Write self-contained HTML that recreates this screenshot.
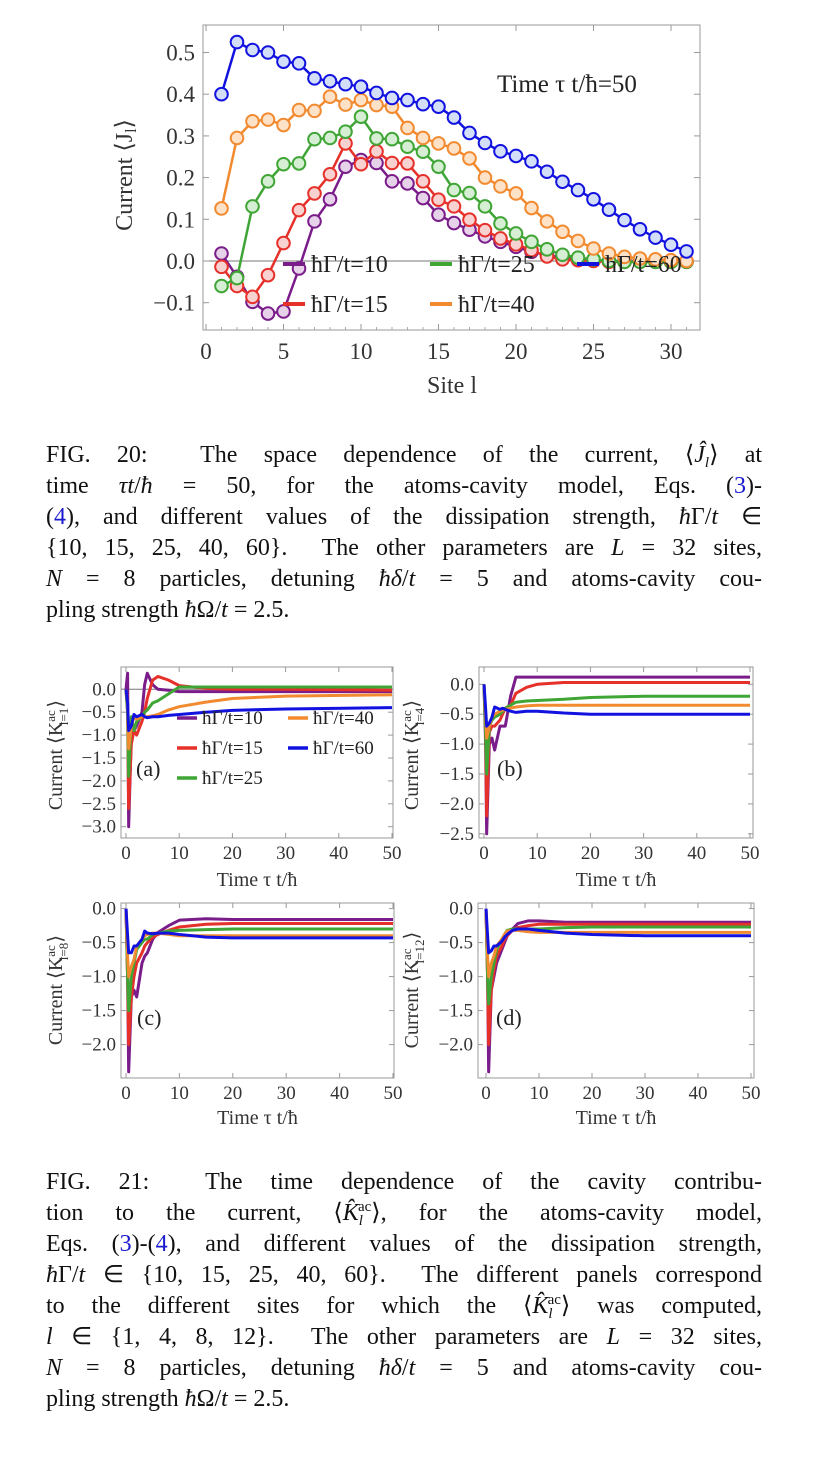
<!DOCTYPE html>
<html><head><meta charset="utf-8">
<style>
body{margin:0;background:#fff;width:814px;height:1474px;overflow:hidden;position:relative;font-family:"Liberation Serif",serif;}
svg text{font-family:"Liberation Serif",serif;}
.cap{position:absolute;left:46px;width:716px;font-size:24px;color:#111;}
.cap div{height:31px;line-height:31px;text-align:justify;text-align-last:justify;white-space:nowrap;overflow:visible;}
.cap div.last{text-align-last:left;}
.cap i{font-style:italic}
.cap sub,.cap sup{font-size:15px;line-height:0;position:relative;vertical-align:baseline;}
.cap sub{top:5px}.cap sup{top:-9px}
.blue{color:#1a1ad0}
</style></head><body>
<svg id="top" width="814" height="400" style="position:absolute;left:0;top:0"></svg>
<svg id="bot" width="814" height="500" style="position:absolute;left:0;top:650px"></svg>

<div class="cap" style="top:440px">
<div>FIG. 20: &nbsp;The space dependence of the current, ⟨<i>Ĵ<sub>l</sub></i>⟩ at</div>
<div>time <i>τt</i>/<i>ħ</i> = 50, for the atoms-cavity model, Eqs. (<span class="blue">3</span>)-</div>
<div>(<span class="blue">4</span>), and different values of the dissipation strength, <i>ħ</i>Γ/<i>t</i> ∈</div>
<div>{10, 15, 25, 40, 60}. &nbsp;The other parameters are <i>L</i> = 32 sites,</div>
<div><i>N</i> = 8 particles, detuning <i>ħδ</i>/<i>t</i> = 5 and atoms-cavity cou-</div>
<div class="last">pling strength <i>ħ</i>Ω/<i>t</i> = 2.5.</div>
</div>
<div class="cap" style="top:1167px">
<div>FIG. 21: &nbsp;The time dependence of the cavity contribu-</div>
<div>tion to the current, ⟨<i>K̂</i><sub><i>l</i></sub><sup style="margin-left:-5px">ac</sup>⟩, for the atoms-cavity model,</div>
<div>Eqs. (<span class="blue">3</span>)-(<span class="blue">4</span>), and different values of the dissipation strength,</div>
<div><i>ħ</i>Γ/<i>t</i> ∈ {10, 15, 25, 40, 60}. &nbsp;The different panels correspond</div>
<div>to the different sites for which the ⟨<i>K̂</i><sub><i>l</i></sub><sup style="margin-left:-5px">ac</sup>⟩ was computed,</div>
<div><i>l</i> ∈ {1, 4, 8, 12}. &nbsp;The other parameters are <i>L</i> = 32 sites,</div>
<div><i>N</i> = 8 particles, detuning <i>ħδ</i>/<i>t</i> = 5 and atoms-cavity cou-</div>
<div class="last">pling strength <i>ħ</i>Ω/<i>t</i> = 2.5.</div>
</div>

<script>
// ---- Top chart data ----
const sites = [1,2,3,4,5,6,7,8,9,10,11,12,13,14,15,16,17,18,19,20,21,22,23,24,25,26,27,28,29,30,31];
const seriesNames = ["g10","g15","g25","g40","g60"];
const legendLabels = ["ħΓ/t=10","ħΓ/t=15","ħΓ/t=25","ħΓ/t=40","ħΓ/t=60"];
const J10 = [0.018,-0.038,-0.098,-0.126,-0.121,-0.018,0.095,0.148,0.226,0.242,0.235,0.191,0.186,0.151,0.111,0.091,0.075,0.059,0.046,0.034,0.022,0.014,0.008,0.004,0.002,0,0,0,0,0,0];
const J15 = [-0.014,-0.06,-0.086,-0.034,0.043,0.122,0.162,0.208,0.282,0.232,0.263,0.235,0.234,0.191,0.147,0.131,0.099,0.074,0.054,0.04,0.026,0.011,0.004,0.002,0,-0.002,-0.002,-0.002,-0.002,-0.002,-0.002];
const J25 = [-0.06,-0.041,0.131,0.191,0.232,0.234,0.292,0.295,0.31,0.346,0.294,0.292,0.274,0.262,0.226,0.17,0.163,0.131,0.09,0.066,0.046,0.028,0.015,0.008,0.004,0,-0.002,-0.002,-0.002,-0.002,-0.002];
const J40 = [0.126,0.295,0.335,0.339,0.326,0.362,0.36,0.394,0.375,0.386,0.374,0.37,0.319,0.295,0.282,0.27,0.246,0.2,0.179,0.162,0.127,0.095,0.07,0.048,0.03,0.018,0.01,0.006,0.004,0.002,0];
const J60 = [0.40,0.525,0.506,0.50,0.478,0.474,0.438,0.431,0.424,0.418,0.403,0.391,0.386,0.376,0.37,0.344,0.307,0.283,0.263,0.252,0.239,0.214,0.19,0.17,0.148,0.123,0.098,0.076,0.056,0.039,0.023];
const xTicksTop = [0,5,10,15,20,25,30];
const yTicksTop = [-0.1,0.0,0.1,0.2,0.3,0.4,0.5];

// ---- Bottom panels data ----
const times = [0,0.3,0.5,1,1.5,2,3,3.5,4,5,6,8,10,15,20,30,50];
const A10=[0,0.35,-3.0,-1.0,-0.9,-0.8,-0.5,0.1,0.35,0.1,0.0,-0.02,-0.05,-0.05,-0.05,-0.05,-0.05];
const A15=[0,-0.5,-2.6,-1.2,-0.9,-1.0,-0.7,-0.5,-0.2,0.2,0.28,0.2,0.08,0.02,0.0,0.0,-0.02];
const A25=[0,-0.5,-1.9,-0.6,-0.9,-0.7,-0.6,-0.5,-0.45,-0.3,-0.25,-0.1,0.05,0.05,0.05,0.05,0.05];
const A40=[0,-0.3,-1.3,-0.8,-0.6,-0.65,-0.6,-0.6,-0.6,-0.58,-0.55,-0.45,-0.38,-0.28,-0.2,-0.15,-0.12];
const A60=[0,-0.3,-0.9,-0.8,-0.55,-0.6,-0.55,-0.6,-0.62,-0.6,-0.6,-0.57,-0.55,-0.5,-0.46,-0.43,-0.4];
const B10=[0,-1.0,-2.5,-1.0,-0.9,-1.1,-0.7,-0.7,-0.7,-0.2,0.12,0.12,0.12,0.12,0.12,0.12,0.12];
const B15=[0,-0.8,-2.2,-0.8,-0.7,-0.7,-0.6,-0.5,-0.4,-0.35,-0.15,-0.05,0.0,0.03,0.03,0.03,0.03];
const B25=[0,-0.8,-1.5,-0.7,-0.6,-0.55,-0.5,-0.45,-0.4,-0.35,-0.3,-0.28,-0.27,-0.25,-0.22,-0.2,-0.2];
const B40=[0,-0.5,-0.9,-0.7,-0.55,-0.5,-0.45,-0.43,-0.42,-0.4,-0.38,-0.36,-0.35,-0.35,-0.35,-0.35,-0.35];
const B60=[0,-0.4,-0.7,-0.65,-0.55,-0.38,-0.42,-0.4,-0.42,-0.45,-0.47,-0.45,-0.45,-0.48,-0.5,-0.5,-0.5];
const C10=[0,-1.0,-2.4,-1.3,-1.2,-1.3,-0.8,-0.7,-0.65,-0.45,-0.35,-0.25,-0.17,-0.15,-0.16,-0.16,-0.16];
const C15=[0,-1.0,-2.0,-1.3,-1.0,-0.8,-0.65,-0.55,-0.5,-0.42,-0.38,-0.32,-0.27,-0.23,-0.22,-0.22,-0.22];
const C25=[0,-1.0,-1.5,-1.0,-0.8,-0.6,-0.5,-0.45,-0.45,-0.38,-0.36,-0.33,-0.32,-0.31,-0.3,-0.3,-0.3];
const C40=[0,-0.7,-1.0,-0.85,-0.75,-0.55,-0.45,-0.4,-0.38,-0.36,-0.36,-0.38,-0.4,-0.4,-0.4,-0.4,-0.4];
const C60=[0,-0.4,-0.65,-0.65,-0.55,-0.55,-0.45,-0.33,-0.36,-0.37,-0.36,-0.36,-0.38,-0.42,-0.43,-0.43,-0.43];
const D10=[0,-1.0,-2.4,-1.2,-1.0,-0.8,-0.6,-0.5,-0.4,-0.3,-0.22,-0.18,-0.18,-0.2,-0.2,-0.2,-0.2];
const D15=[0,-1.0,-2.0,-1.2,-0.9,-0.7,-0.55,-0.45,-0.4,-0.32,-0.28,-0.25,-0.23,-0.23,-0.23,-0.23,-0.23];
const D25=[0,-1.0,-1.4,-1.0,-0.8,-0.6,-0.45,-0.38,-0.32,-0.3,-0.3,-0.3,-0.3,-0.28,-0.27,-0.27,-0.27];
const D40=[0,-0.7,-1.0,-0.8,-0.7,-0.55,-0.45,-0.38,-0.33,-0.32,-0.32,-0.34,-0.35,-0.35,-0.35,-0.35,-0.35];
const D60=[0,-0.4,-0.65,-0.62,-0.55,-0.55,-0.48,-0.42,-0.38,-0.32,-0.3,-0.3,-0.32,-0.36,-0.38,-0.4,-0.4];
const xTicksBot = [0,10,20,30,40,50];

const COLORS = ["#7a1c8a","#e6302a","#3fa535","#f28a30","#1212e0"];
const FILLS = ["#e6d3ea","#f8d2d1","#d6eed3","#fde2c8","#d3def8"];
const NS="http://www.w3.org/2000/svg";
function mk(parent,tag,attrs,txt){const e=document.createElementNS(NS,tag);for(const k in attrs)e.setAttribute(k,attrs[k]);if(txt!==undefined)e.textContent=txt;parent.appendChild(e);return e;}
function fmt(v){return (v<0?"−":"")+Math.abs(v).toFixed(1);}

// ---- Top chart ----
(function(){
 const svg=document.getElementById('top');
 const X0=206,XS=15.5,Y0=261,YS=417;
 const xs=v=>X0+v*XS, ys=v=>Y0-v*YS;
 const L=203,R=700,T=25,B=330;
 const fr=mk(svg,'rect',{x:L,y:T,width:R-L,height:B-T,fill:'none',stroke:'#999','stroke-width':1});
 
 
 mk(svg,'line',{x1:L,x2:R,y1:ys(0),y2:ys(0),stroke:'#777','stroke-width':1});
 xTicksTop.forEach(v=>{
  mk(svg,'line',{x1:xs(v),x2:xs(v),y1:B,y2:B-6,stroke:'#999'});
  mk(svg,'line',{x1:xs(v),x2:xs(v),y1:T,y2:T+6,stroke:'#999'});
  const t=mk(svg,'text',{x:xs(v),y:B+29,'text-anchor':'middle','font-size':23,fill:'#333'},String(v));
  
  
 });
 for(let v=1;v<32;v++){if(v%5)mk(svg,'line',{x1:xs(v),x2:xs(v),y1:B,y2:B-3,stroke:'#aaa'});}
 yTicksTop.forEach(v=>{
  mk(svg,'line',{x1:L,x2:L+6,y1:ys(v),y2:ys(v),stroke:'#999'});
  mk(svg,'line',{x1:R,x2:R-6,y1:ys(v),y2:ys(v),stroke:'#999'});
  const t=mk(svg,'text',{x:L-8,y:ys(v)+8,'text-anchor':'end','font-size':23,fill:'#333'},fmt(v));
  
  
 });
 const yl=mk(svg,'text',{x:0,y:0,'font-size':24,fill:'#333','text-anchor':'middle',transform:'translate(132,175) rotate(-90)'},'Current ⟨J');
 mk(yl,'tspan',{'font-size':16,dy:4},'l');mk(yl,'tspan',{dy:-4},'⟩');
 
 
 const xl=mk(svg,'text',{x:452,y:393,'text-anchor':'middle','font-size':24,fill:'#333'},'Site l');
 
 
 const an=mk(svg,'text',{x:497,y:92,'font-size':25,fill:'#222'},'Time τ t/ħ=50');
 
 
 const all=[J10,J15,J25,J40,J60];
 all.forEach((arr,i)=>{
  const g=mk(svg,'g',{});
  
  
  mk(g,'polyline',{points:arr.map((v,k)=>xs(sites[k])+','+ys(v)).join(' '),fill:'none',stroke:COLORS[i],'stroke-width':2.5});
  arr.forEach((v,k)=>{
   const c=mk(g,'circle',{cx:xs(sites[k]),cy:ys(v),r:6.3,fill:FILLS[i],stroke:COLORS[i],'stroke-width':2});
   
   
  });
 });
 const lg=[[0,283,272],[1,283,312],[2,430,272],[3,430,312],[4,577,272]];
 lg.forEach(([i,x,y])=>{
  const g=mk(svg,'g',{});
  
  
  mk(g,'line',{x1:x,x2:x+22,y1:y-8,y2:y-8,stroke:COLORS[i],'stroke-width':4});
  mk(g,'text',{x:x+28,y:y,'font-size':24,fill:'#222'},legendLabels[i]);
 });
})();

// ---- Bottom panels ----
(function(){
 const svg=document.getElementById('bot');
 const O=650;
 const panels=[
  {d:[A10,A15,A25,A40,A60],L:121,R:393,T:667-O,B:838-O,x0:126,x1:392,y0:689.3-O,yS:45.8,yt:[0,-0.5,-1,-1.5,-2,-2.5,-3],lab:'(a)',lx:136,ly:776-O,sub:'l=1',ylx:62,yly:755-O,xt:886-O},
  {d:[B10,B15,B25,B40,B60],L:479,R:753,T:667-O,B:838-O,x0:484,x1:750,y0:684.3-O,yS:59.8,yt:[0,-0.5,-1,-1.5,-2,-2.5],lab:'(b)',lx:497,ly:776-O,sub:'l=4',ylx:418,yly:755-O,xt:886-O},
  {d:[C10,C15,C25,C40,C60],L:121,R:394,T:903-O,B:1078-O,x0:126,x1:393,y0:908.6-O,yS:68,yt:[0,-0.5,-1,-1.5,-2],lab:'(c)',lx:137,ly:1025-O,sub:'l=8',ylx:62,yly:990-O,xt:1124-O},
  {d:[D10,D15,D25,D40,D60],L:478,R:754,T:903-O,B:1078-O,x0:486,x1:751,y0:908.6-O,yS:68,yt:[0,-0.5,-1,-1.5,-2],lab:'(d)',lx:496,ly:1025-O,sub:'l=12',ylx:418,yly:990-O,xt:1124-O}
 ];
 const pnames=['panel-a','panel-b','panel-c','panel-d'];
 panels.forEach((p,pi)=>{
  const g=mk(svg,'g',{});
  
  
  const xs=v=>p.x0+v*(p.x1-p.x0)/50, ys=v=>p.y0-v*p.yS;
  mk(g,'rect',{x:p.L,y:p.T,width:p.R-p.L,height:p.B-p.T,fill:'none',stroke:'#999'});
  if(pi===0) mk(g,'line',{x1:p.L,x2:p.R,y1:ys(0),y2:ys(0),stroke:'#777'});
  xTicksBot.forEach(v=>{
   mk(g,'line',{x1:xs(v),x2:xs(v),y1:p.B,y2:p.B-5,stroke:'#999'});
   mk(g,'line',{x1:xs(v),x2:xs(v),y1:p.T,y2:p.T+5,stroke:'#999'});
   const t=mk(g,'text',{x:xs(v),y:p.B+21,'text-anchor':'middle','font-size':19,fill:'#333'},String(v));
   
   
  });
  p.yt.forEach(v=>{
   mk(g,'line',{x1:p.L,x2:p.L+5,y1:ys(v),y2:ys(v),stroke:'#999'});
   mk(g,'line',{x1:p.R,x2:p.R-5,y1:ys(v),y2:ys(v),stroke:'#999'});
   const t=mk(g,'text',{x:p.L-5,y:ys(v)+6,'text-anchor':'end','font-size':19,fill:'#333'},fmt(v));
   
   
  });
  p.d.forEach((arr,i)=>{
   const l=mk(g,'polyline',{points:arr.map((v,k)=>xs(times[k])+','+ys(v)).join(' '),fill:'none',stroke:COLORS[i],'stroke-width':3,'stroke-linejoin':'round'});
   
   
  });
  const la=mk(g,'text',{x:p.lx,y:p.ly,'font-size':22,fill:'#222'},p.lab);
  
  
  const yl=mk(g,'text',{x:0,y:0,'font-size':20,fill:'#333','text-anchor':'middle',transform:'translate('+p.ylx+','+p.yly+') rotate(-90)'},'Current ⟨K');
  mk(yl,'tspan',{'font-size':13,dy:-7},'ac');
  mk(yl,'tspan',{'font-size':13,dx:-15,dy:13},p.sub);
  mk(yl,'tspan',{dy:-6},'⟩');
  
  
  const xl=mk(g,'text',{x:(p.L+p.R)/2,y:p.xt,'text-anchor':'middle','font-size':20,fill:'#333'},'Time τ t/ħ');
  
  
 });
 const lg=[[0,177,724-O],[1,177,754-O],[2,177,784-O],[3,288,724-O],[4,288,754-O]];
 lg.forEach(([i,x,y])=>{
  const g=mk(svg,'g',{});
  
  
  mk(g,'line',{x1:x,x2:x+20,y1:y-6,y2:y-6,stroke:COLORS[i],'stroke-width':3.5});
  mk(g,'text',{x:x+25,y:y,'font-size':19,fill:'#222'},legendLabels[i]);
 });
})();
</script>
</body></html>
